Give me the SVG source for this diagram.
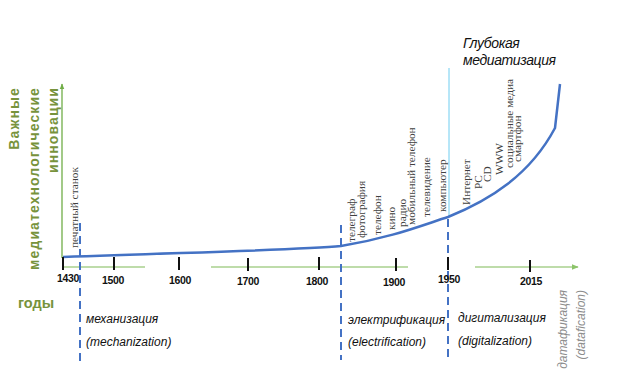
<svg xmlns="http://www.w3.org/2000/svg" width="634" height="390" viewBox="0 0 634 390">
<defs>
<marker id="arr" viewBox="0 0 10 10" refX="9" refY="5" markerWidth="6" markerHeight="6" orient="auto" markerUnits="userSpaceOnUse">
<path d="M0,1 L10,5 L0,9 z" fill="#70ad47"/>
</marker>
<marker id="arrL" viewBox="0 0 10 10" refX="9" refY="5" markerWidth="7" markerHeight="7" orient="auto" markerUnits="userSpaceOnUse">
<path d="M0,1 L10,5 L0,9 z" fill="#8cc46a"/>
</marker>
<style>
.ax{stroke:#70ad47;stroke-width:1.3;fill:none}
.hx{stroke:#a9d18e;stroke-width:1.6;fill:none}
.tick{stroke:#111;stroke-width:2}
.dash{stroke:#4472c4;stroke-width:2;stroke-dasharray:8,5;fill:none}
.yr{font-family:"Liberation Sans",Arial,sans-serif;font-weight:bold;font-size:10.5px;fill:#111;text-anchor:middle;letter-spacing:-0.3px}
.inv{font-family:"Liberation Serif","Times New Roman",serif;font-size:11.3px;fill:#404040}
.ylab{font-family:"Liberation Sans",Arial,sans-serif;font-weight:bold;font-size:14px;fill:#77933c;text-anchor:end;letter-spacing:1.1px}
.era{font-family:"Liberation Sans",Arial,sans-serif;font-style:italic;font-size:12px;fill:#111}
.deep{font-family:"Liberation Sans",Arial,sans-serif;font-style:italic;font-size:14px;fill:#111;letter-spacing:-0.4px}
.data{font-family:"Liberation Sans",Arial,sans-serif;font-style:italic;font-size:12px;fill:#8c8c8c;text-anchor:end}
</style>
</defs>
<rect width="634" height="390" fill="#fff"/>

<g id="connectors">
<line class="ax" x1="62" y1="258" x2="62" y2="84" marker-end="url(#arr)"/>
<line class="hx" x1="62" y1="267" x2="145" y2="267"/>
<line class="hx" x1="211" y1="267" x2="408" y2="267"/>
<line class="hx" x1="475" y1="267" x2="578" y2="267" marker-end="url(#arrL)"/>
<line x1="449" y1="68" x2="449" y2="217" stroke="#6fcdf0" stroke-width="1"/>
<line class="dash" x1="80" y1="223" x2="80" y2="364"/>
<line class="dash" x1="341" y1="225" x2="341" y2="360"/>
<line class="dash" x1="448" y1="219" x2="448" y2="358"/>
</g>

<g id="curve">
<path d="M63,257 C200,252 300,250 341,246 C390,238 420,226 448,217 C490,200 530,175 555,128 L560,84" fill="none" stroke="#4472c4" stroke-width="2.5"/>
</g>

<g id="ticks">
<line class="tick" x1="63" y1="257" x2="63" y2="270"/>
<line class="tick" x1="114" y1="257" x2="114" y2="270"/>
<line class="tick" x1="179" y1="257" x2="179" y2="270"/>
<line class="tick" x1="248" y1="258" x2="248" y2="271"/>
<line class="tick" x1="319" y1="257" x2="319" y2="270"/>
<line class="tick" x1="396" y1="258" x2="396" y2="271"/>
<line class="tick" x1="448" y1="257" x2="448" y2="270"/>
<line class="tick" x1="530" y1="260" x2="530" y2="272"/>
</g>

<g id="years">
<text class="yr" x="68" y="282">1430</text>
<text class="yr" x="113" y="284">1500</text>
<text class="yr" x="180" y="284">1600</text>
<text class="yr" x="248" y="285">1700</text>
<text class="yr" x="317" y="285">1800</text>
<text class="yr" x="394" y="286">1900</text>
<text class="yr" x="449" y="283">1950</text>
<text class="yr" x="531" y="285">2015</text>
</g>

<g id="y-axis-label">
<text class="ylab" transform="translate(19,87) rotate(-90)">Важные</text>
<text class="ylab" transform="translate(39,87) rotate(-90)">медиатехнологические</text>
<text class="ylab" transform="translate(58,87) rotate(-90)">инновации</text>
</g>

<g id="x-axis-label">
<text x="18" y="308" font-family="Liberation Sans, Arial, sans-serif" font-weight="bold" font-size="14.5" fill="#77933c">годы</text>
</g>

<g id="innovations">
<text class="inv" transform="translate(78,248) rotate(-90)">печатный станок</text>
<text class="inv" transform="translate(355,242) rotate(-90)">телеграф</text>
<text class="inv" transform="translate(365,238) rotate(-90)">фотография</text>
<text class="inv" transform="translate(381,235) rotate(-90)">телефон</text>
<text class="inv" transform="translate(395,230) rotate(-90)">кино</text>
<text class="inv" transform="translate(406,227) rotate(-90)">радио</text>
<text class="inv" transform="translate(415,225) rotate(-90)">мобильный телефон</text>
<text class="inv" transform="translate(430,217) rotate(-90)">телевидение</text>
<text class="inv" transform="translate(446,212) rotate(-90)">компьютер</text>
<text class="inv" transform="translate(470,205) rotate(-90)">Интернет</text>
<text class="inv" transform="translate(482,189) rotate(-90)">PC</text>
<text class="inv" transform="translate(491,182) rotate(-90)">CD</text>
<text class="inv" transform="translate(503,175) rotate(-90)">WWW</text>
<text class="inv" transform="translate(513,168) rotate(-90)">социальные медиа</text>
<text class="inv" transform="translate(521,162) rotate(-90)">смартфон</text>
</g>

<g id="deep-mediatization">
<text class="deep" x="463" y="48">Глубокая</text>
<text class="deep" x="463" y="65">медиатизация</text>
</g>

<g id="eras">
<text class="era" x="86" y="323">механизация</text>
<text class="era" x="86" y="346">(mechanization)</text>
<text class="era" x="348" y="324">электрификация</text>
<text class="era" x="348" y="346">(electrification)</text>
<text class="era" x="458" y="322">дигитализация</text>
<text class="era" x="458" y="345">(digitalization)</text>
</g>

<g id="datafication">
<text class="data" transform="translate(567,290) rotate(-90)">датафикация</text>
<text class="data" transform="translate(585,290) rotate(-90)">(datafication)</text>
</g>
</svg>
